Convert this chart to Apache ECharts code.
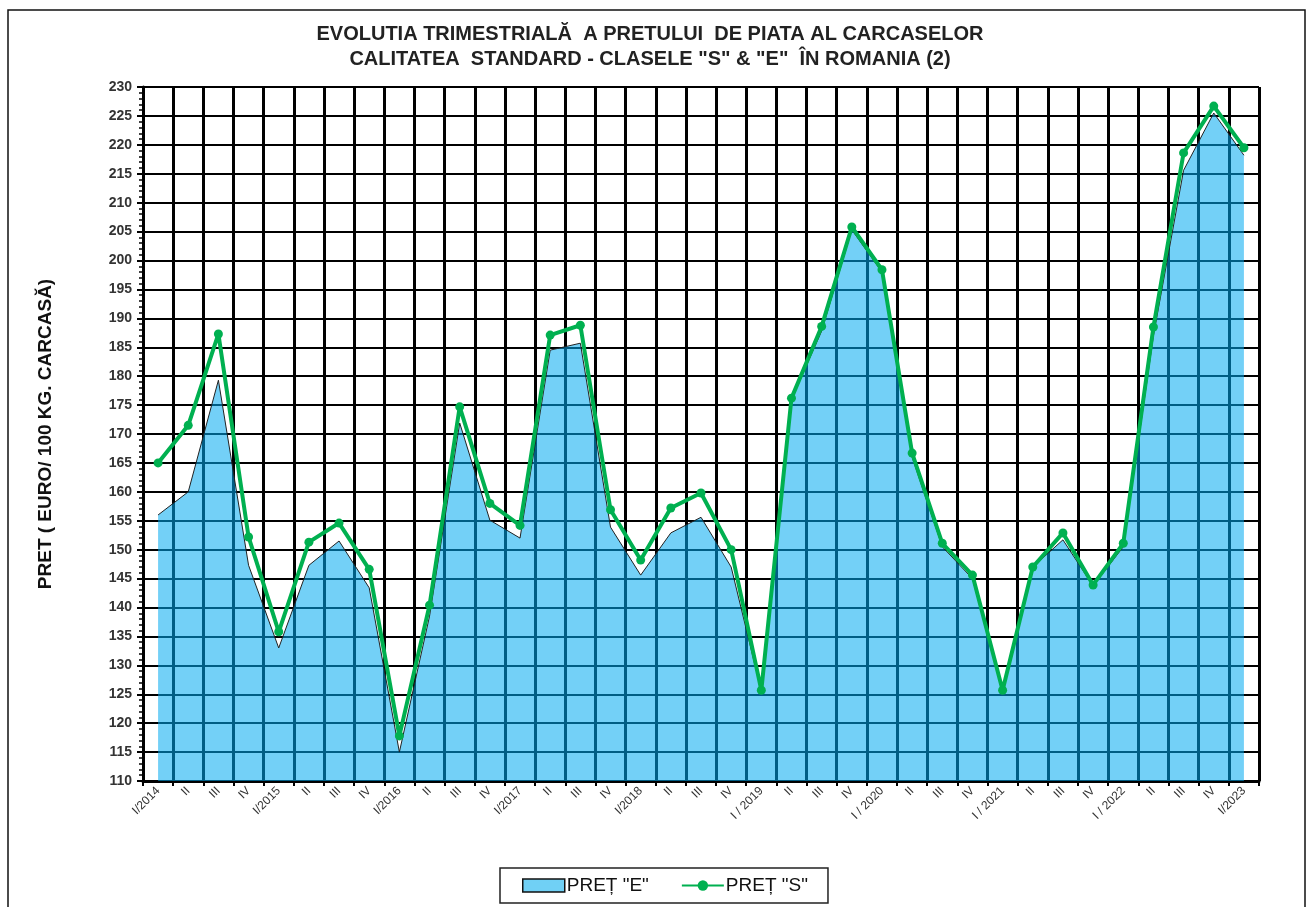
<!DOCTYPE html>
<html>
<head>
<meta charset="utf-8">
<script src="https://cdn.jsdelivr.net/npm/echarts@6/dist/echarts.min.js"></script>
<style>html,body{margin:0;padding:0;background:#fff;}#c{width:1310px;height:907px;}</style>
</head>
<body>
<div id="c"></div>
<script>
const categories = ['I/2014','II','III','IV','I/2015','II','III','IV','I/2016','II','III','IV','I/2017','II','III','IV','I/2018','II','III','IV','I / 2019','II','III','IV','I / 2020','II','III','IV','I / 2021','II','III','IV','I / 2022','II','III','IV','I/2023'];
const pretE = [156.0,160.0,179.3,147.3,133.0,147.3,151.5,143.4,115.0,138.5,171.9,155.1,152.0,184.5,185.7,153.9,145.6,152.9,155.6,147.0,125.5,176.0,187.8,205.3,198.0,166.0,150.5,145.0,125.5,147.0,151.7,143.7,150.5,187.0,215.6,225.5,218.2];
const pretS = [165.0,171.5,187.3,152.2,135.8,151.3,154.6,146.6,117.8,140.4,174.7,158.0,154.2,187.1,188.8,156.9,148.2,157.2,159.8,150.0,125.7,176.2,188.6,205.8,198.4,166.7,151.1,145.6,125.7,147.0,152.9,143.9,151.1,188.5,218.6,226.7,219.5];
const yTicks = {min:110, max:230, step:5};
const seriesNames = ['PREȚ "E"','PREȚ "S"'];
const titleText = 'EVOLUTIA TRIMESTRIALĂ  A PRETULUI  DE PIATA AL CARCASELOR\nCALITATEA  STANDARD - CLASELE "S" & "E"  ÎN ROMANIA (2)';
const yName = 'PRET ( EURO/ 100 KG. CARCASĂ)';

const chart = echarts.init(document.getElementById('c'));
const font = 'Liberation Sans, Arial, sans-serif';
chart.setOption({
  animation:false,
  backgroundColor:'#fff',
  title:{text:titleText,left:645,top:17,textAlign:'center',
    textStyle:{fontFamily:font,fontWeight:'bold',fontSize:20,lineHeight:25,color:'#222'}},
  grid:{left:143,right:51,top:87,bottom:126},
  legend:{left:500,top:868,padding:[8,20,8,22],borderColor:'#222',borderWidth:1.5,
    itemWidth:42,itemHeight:13,itemGap:32,
    textStyle:{fontFamily:font,fontSize:19,color:'#111',padding:[0,0,0,-3]},
    data:[{name:seriesNames[0],icon:'rect',itemStyle:{color:'#70d0f5',borderColor:'#111',borderWidth:1.5}},
          {name:seriesNames[1]}]},
  xAxis:{type:'category',data:categories,boundaryGap:true,
    axisLine:{lineStyle:{color:'#000',width:3}},
    axisTick:{show:true,interval:0,length:5,lineStyle:{color:'#000',width:2}},
    axisLabel:{interval:0,rotate:45,fontFamily:font,fontSize:12,color:'#333',margin:8},
    splitLine:{show:true,interval:0,lineStyle:{color:'#000',width:3}}},
  yAxis:{type:'value',min:yTicks.min,max:yTicks.max,interval:yTicks.step,
    name:yName,nameLocation:'middle',nameGap:88,
    nameTextStyle:{fontFamily:font,fontWeight:'bold',fontSize:19,color:'#111'},
    axisLine:{show:true,lineStyle:{color:'#000',width:3}},
    axisTick:{show:true,length:6,lineStyle:{color:'#000',width:2}},
    minorTick:{show:true,splitNumber:5,length:4,lineStyle:{color:'#000',width:1.5}},
    axisLabel:{fontFamily:font,fontSize:14,fontWeight:'bold',color:'#333',margin:11},
    splitLine:{show:true,lineStyle:{color:'#000',width:2}}},
  series:[
    {name:seriesNames[0],type:'line',data:pretE,symbol:'none',
      lineStyle:{color:'#222',width:1},
      itemStyle:{color:'#70d0f5'},
      areaStyle:{color:'rgb(0,170,240)',opacity:0.55,origin:'start'},z:2},
    {name:seriesNames[1],type:'line',data:pretS,symbol:'circle',symbolSize:9,
      lineStyle:{color:'#00b050',width:4},itemStyle:{color:'#00b050'},z:3}
  ],
  graphic:[{type:'rect',shape:{x:8,y:10,width:1297,height:905},
    style:{fill:'none',stroke:'#111',lineWidth:1.5},silent:true}]
});
</script>
</body>
</html>
